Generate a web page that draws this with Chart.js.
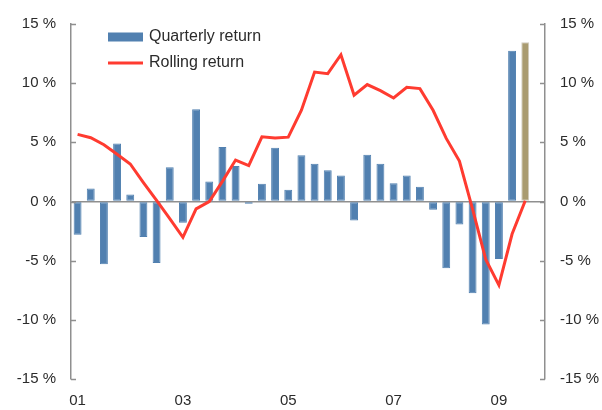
<!DOCTYPE html>
<html>
<head>
<meta charset="utf-8">
<script src="https://cdn.jsdelivr.net/npm/chart.js@4/dist/chart.umd.min.js"></script>
<style>
  html, body { margin: 0; padding: 0; background: #fff; }
  #wrap { width: 602px; height: 410px; position: relative; }
</style>
</head>
<body>
<div id="wrap"><canvas id="chart"></canvas></div>
<script>
//-----------------------------------------------------------------------------
// Data
//-----------------------------------------------------------------------------

// quarters 2001Q1 .. 2009Q4 (last one left empty)
var years = ['01', '02', '03', '04', '05', '06', '07', '08', '09'];
var quarters = ['Q1', 'Q2', 'Q3', 'Q4'];

var quarterlyReturn = [
  -2.8, 1.1, -5.3, 4.9, 0.6, -3.0, -5.2, 2.9, -1.8, 7.8, 1.7, 4.6,
  3.0, -0.2, 1.5, 4.55, 1.0, 3.9, 3.2, 2.65, 2.2, -1.6, 3.95, 3.2,
  1.55, 2.2, 1.25, -0.7, -5.65, -1.95, -7.75, -10.4, -4.85, 12.75, 13.45
];

var rollingReturn = [
  5.67, 5.39, 4.8, 4.0, 3.17, 1.6, 0.1, -1.45, -3.03, -0.62, 0.0, 1.7,
  3.5, 3.03, 5.47, 5.36, 5.44, 7.71, 10.94, 10.8, 12.4, 8.98, 9.88, 9.37,
  8.75, 9.65, 9.54, 7.71, 5.33, 3.42, -0.65, -4.9, -7.07, -2.75, 0.06
];

var yTicks = [-15, -10, -5, 0, 5, 10, 15];
var seriesNames = ['Quarterly return', 'Rolling return'];

var labels = [];
years.forEach(function(y) {
  quarters.forEach(function(q) { labels.push(y + q); });
});

// Styles
//-----------------------------------------------------------------------------

var BLUE = '#5180b0';
var KHAKI = '#a99b70';
var RED = '#ff3b30';
var AXIS = '#8f8f8f';
var TEXT = '#2b2b2b';
var FONT = "'Liberation Sans', Arial, Helvetica, sans-serif";

// Plugins
//-----------------------------------------------------------------------------

// tick marks pointing into the plot area
var innerTicks = {
  id: 'innerTicks',
  afterDraw: function(chart) {
    var ctx = chart.ctx;
    ctx.save();
    ctx.strokeStyle = AXIS;
    ctx.lineWidth = 1.5;
    ['y', 'y2'].forEach(function(id) {
      var scale = chart.scales[id];
      var x0 = id === 'y' ? scale.right : scale.left;
      var dir = id === 'y' ? 1 : -1;
      yTicks.forEach(function(v) {
        var py = Math.round(scale.getPixelForValue(v)) + 0.5;
        ctx.beginPath();
        ctx.moveTo(x0, py);
        ctx.lineTo(x0 + dir * 5, py);
        ctx.stroke();
      });
    });
    ctx.restore();
  }
};

// legend drawn inside the chart area, top left
var innerLegend = {
  id: 'innerLegend',
  afterDraw: function(chart) {
    var ctx = chart.ctx,
        area = chart.chartArea,
        x = area.left + 37,
        y = area.top + 13;

    ctx.save();
    ctx.font = '16px ' + FONT;
    ctx.textBaseline = 'middle';

    // bar entry
    ctx.fillStyle = BLUE;
    ctx.fillRect(x, y - 4.5, 35, 9);
    ctx.fillStyle = TEXT;
    ctx.fillText(seriesNames[0], x + 41, y);

    // line entry
    y += 26;
    ctx.strokeStyle = RED;
    ctx.lineWidth = 3;
    ctx.beginPath();
    ctx.moveTo(x, y);
    ctx.lineTo(x + 35, y);
    ctx.stroke();
    ctx.fillText(seriesNames[1], x + 41, y);
    ctx.restore();
  }
};

// Chart
//-----------------------------------------------------------------------------

var percent = function(v) { return v + ' %'; };

var yAxis = function(position) {
  return {
    type: 'linear',
    position: position,
    min: -15,
    max: 15,
    afterBuildTicks: function(scale) {
      scale.ticks = yTicks.map(function(v) { return { value: v }; });
    },
    afterFit: function(scale) {
      scale.width = position === 'left' ? 71 : 57;
    },
    border: { display: true, color: AXIS, width: 1.5 },
    grid: {
      display: position === 'left',
      drawTicks: false,
      lineWidth: 1.5,
      color: function(c) { return c.tick && c.tick.value === 0 ? AXIS : 'rgba(0,0,0,0)'; }
    },
    ticks: {
      padding: 15,
      color: TEXT,
      font: { family: FONT, size: 15 },
      callback: percent
    }
  };
};

new Chart(document.getElementById('chart'), {
  data: {
    labels: labels,
    datasets: [
      {
        type: 'line',
        label: seriesNames[1],
        data: rollingReturn,
        borderColor: RED,
        borderWidth: 3,
        pointRadius: 0,
        tension: 0,
        yAxisID: 'y',
        order: 0
      },
      {
        type: 'bar',
        label: seriesNames[0],
        data: quarterlyReturn,
        backgroundColor: function(c) {
          return c.dataIndex === quarterlyReturn.length - 1 ? KHAKI : BLUE;
        },
        borderColor: function(c) {
          return c.dataIndex === quarterlyReturn.length - 1 ? '#cfcbbf' : BLUE;
        },
        borderWidth: 1,
        borderSkipped: false,
        barPercentage: 0.6,
        categoryPercentage: 1,
        yAxisID: 'y',
        order: 1
      }
    ]
  },
  options: {
    responsive: true,
    maintainAspectRatio: false,
    animation: false,
    layout: { padding: { top: 22, left: 0, right: 0, bottom: 0 } },
    plugins: {
      legend: { display: false },
      tooltip: { enabled: false }
    },
    scales: {
      x: {
        offset: true,
        border: { display: false },
        grid: { display: false, drawTicks: false },
        afterFit: function(scale) { scale.height = 31; },
        ticks: {
          autoSkip: false,
          maxRotation: 0,
          padding: 13,
          color: TEXT,
          font: { family: FONT, size: 15 },
          callback: function(v, i) {
            var l = labels[i];
            var yr = parseInt(l.substr(0, 2), 10);
            return (l.substr(2) === 'Q1' && yr % 2 === 1) ? l.substr(0, 2) : '';
          }
        }
      },
      y: yAxis('left'),
      y2: yAxis('right')
    }
  },
  plugins: [innerTicks, innerLegend]
});
</script>
</body>
</html>
